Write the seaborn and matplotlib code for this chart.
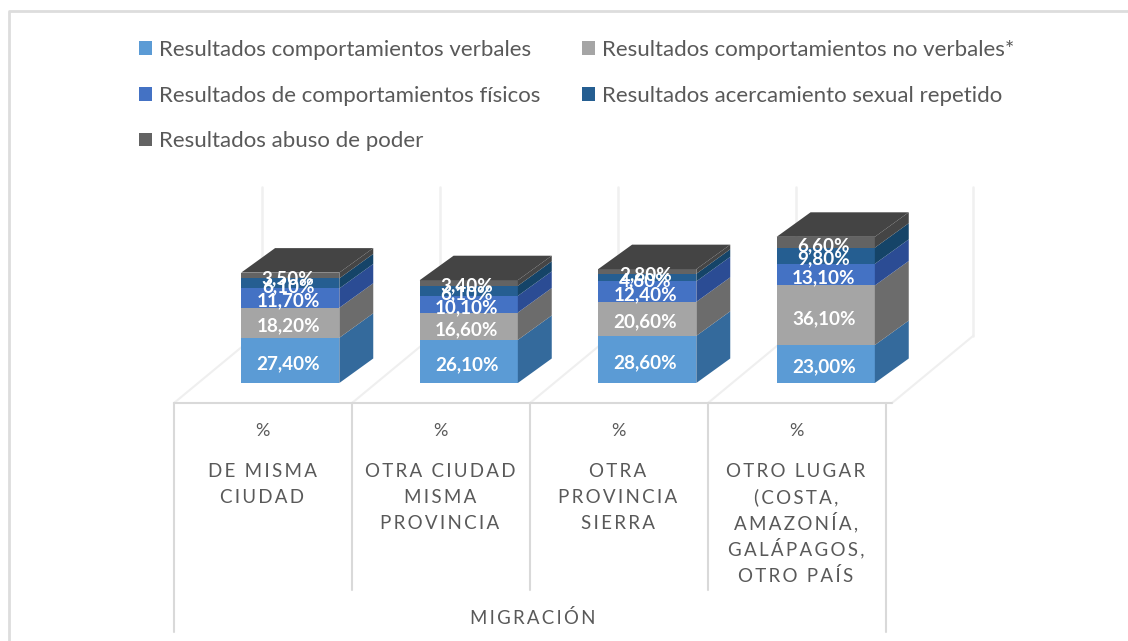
import numpy as np
import pandas as pd
import matplotlib
matplotlib.use("Agg")
import matplotlib.pyplot as plt
import seaborn as sns

categorias = ["DE MISMA\nCIUDAD", "OTRA CIUDAD\nMISMA\nPROVINCIA", "OTRA\nPROVINCIA\nSIERRA",
              "OTRO LUGAR\n(COSTA,\nAMAZONÍA,\nGALÁPAGOS,\nOTRO PAÍS"]
series = ["Resultados comportamientos verbales", "Resultados comportamientos no verbales*",
          "Resultados de comportamientos físicos", "Resultados acercamiento sexual repetido",
          "Resultados abuso de poder"]
verbales = [27.4, 26.1, 28.6, 23.0]
no_verbales = [18.2, 16.6, 20.6, 36.1]
fisicos = [11.7, 10.1, 12.4, 13.1]
acercamiento = [6.1, 6.1, 4.6, 9.8]
abuso = [3.5, 3.4, 2.8, 6.6]
valores = [verbales, no_verbales, fisicos, acercamiento, abuso]

colores = ["#5B9BD5", "#A5A5A5", "#4472C4", "#255E91", "#636363"]
laterales = ["#346A9C", "#6C6C6C", "#2B4C94", "#154468", "#454545"]
color_tapa = "#444444"
gris_texto = "#595959"
gris_linea = "#D9D9D9"
HAIR = "\u200a"


def espaciado(texto):
    # separa las letras como en el original
    return (HAIR * 2).join(texto)


sns.set_theme(style="white")
plt.rcParams["font.family"] = ["Lato", "DejaVu Sans"]

fig = plt.figure(figsize=(11.28, 6.41), dpi=100)

# capa de fondo en pixeles: marco, paredes y tabla
bg = fig.add_axes([0, 0, 1, 1])
bg.set_xlim(0, 1128)
bg.set_ylim(641, 0)
bg.axis("off")
bg.plot([9, 9, 1128], [641, 11, 11], color="#DDDDDD", lw=2)
for x in [262, 440, 618, 796, 973]:
    bg.plot([x, x], [187, 336], color="#F0F0F0", lw=1.8)
for x0 in [174, 352, 530, 708, 892]:
    bg.plot([x0, x0 + 81], [403, 336], color="#EFEFEF", lw=1.5)
bg.plot([174, 892], [403, 403], color=gris_linea, lw=1.5)
for x in [174, 886]:
    bg.plot([x, x], [403, 632], color=gris_linea, lw=1.5)
for x in [352, 530, 708]:
    bg.plot([x, x], [403, 590], color=gris_linea, lw=1.5)
for i, x in enumerate([262, 440, 618, 796]):
    bg.text(x, 431, "%", ha="center", va="center", fontsize=13, color=gris_texto)
    # linea por linea, los acentos no deben mover el interlineado
    for j, linea in enumerate(categorias[i].split("\n")):
        bg.text(x, 477 + 26.2 * j, espaciado(linea), ha="center", va="baseline",
                fontsize=13.5, color=gris_texto)
bg.text(533, 618, espaciado("MIGRACIÓN"), ha="center", va="center", fontsize=13.4, color=gris_texto)

# grafico principal
ax = fig.add_axes([201 / 1128, (641 - 383) / 641, 714 / 1128, 165 / 641])
ax.patch.set_alpha(0)

df = pd.DataFrame({"categoria": categorias})
base = np.zeros(len(categorias))
ancho = 0.55
prof_x = 0.19
prof_y = 14.85

for nombre, vals, color, lateral in zip(series, valores, colores, laterales):
    vals = np.array(vals)
    df["valor"] = vals
    sns.barplot(data=df, x="categoria", y="valor", color=color, bottom=base, width=ancho,
                saturation=1, label=nombre, linewidth=0, ax=ax, clip_on=False)
    for i in range(len(categorias)):
        x1 = i + ancho / 2
        y0, y1 = base[i], base[i] + vals[i]
        ax.fill([x1, x1 + prof_x, x1 + prof_x, x1], [y0, y0 + prof_y, y1 + prof_y, y1],
                color=lateral, lw=0, clip_on=False)
    base = base + vals

# tapa superior
for i, total in enumerate(base):
    x0, x1 = i - ancho / 2, i + ancho / 2
    ax.fill([x0, x1, x1 + prof_x, x0 + prof_x], [total, total, total + prof_y, total + prof_y],
            color=color_tapa, lw=0, clip_on=False)

# etiquetas
acum = np.zeros(len(categorias))
for vals in valores:
    for i, v in enumerate(vals):
        ax.annotate(f"{v:.2f}".replace(".", ",") + "%", (i, acum[i] + v / 2), xytext=(-1.5, -2.2),
                    textcoords="offset points", ha="center", va="center", color="white",
                    fontweight="bold", fontsize=13.6, zorder=5, annotation_clip=False)
    acum = acum + np.array(vals)

ax.set_xticks([])
ax.set_yticks([])
ax.set_xlabel("")
ax.set_ylabel("")
ax.set_xlim(-0.5, 3.5)
ax.set_ylim(0, 100)
for s in ax.spines.values():
    s.set_visible(False)

handles, labels = ax.get_legend_handles_labels()
orden = [0, 2, 4, 1, 3]
ax.legend([handles[k] for k in orden], [labels[k] for k in orden], ncols=2, frameon=False,
          loc="upper left", bbox_to_anchor=(139 / 1128, 1 - 40 / 641), bbox_transform=fig.transFigure,
          fontsize=16, labelcolor=gris_texto, handlelength=0.58, handleheight=0.58,
          handletextpad=0.33, columnspacing=1.87, labelspacing=1.155, borderpad=0, borderaxespad=0)

fig.savefig("out.png", dpi=100)
